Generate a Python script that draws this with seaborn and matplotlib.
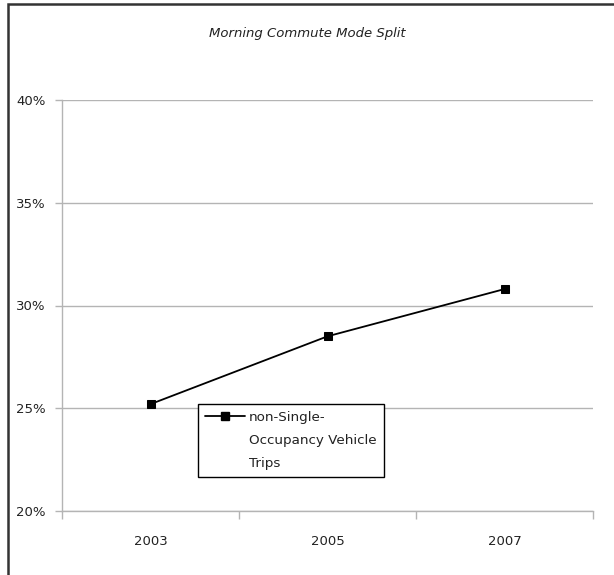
import matplotlib
matplotlib.use("Agg")
import matplotlib.pyplot as plt
import seaborn as sns
import pandas as pd
from matplotlib.lines import Line2D
from matplotlib.patches import Rectangle
from matplotlib.ticker import PercentFormatter

years = ["2003", "2005", "2007"]
values = [0.252, 0.285, 0.308]
legend_lines = ["non-Single-", "Occupancy Vehicle", "Trips"]
title = "Morning Commute Mode Split"
y_ticks = [0.20, 0.25, 0.30, 0.35, 0.40]

df = pd.DataFrame({"year": years, "share": values})

sns.set_style("white")
plt.rcParams["font.family"] = ["DejaVu Sans"]

fig = plt.figure(figsize=(6.14, 5.75), dpi=100)
ax = fig.add_axes([62/614, 1-511/575, (593-62)/614, (511-100)/575])

sns.lineplot(data=df, x="year", y="share", ax=ax, color="black", linewidth=1.3,
             marker="s", markersize=6, markeredgecolor="black", markerfacecolor="black",
             sort=False, legend=False)

ax.set_xlim(-0.5, 2.5)
ax.set_ylim(0.20, 0.40)
ax.set_yticks(y_ticks)
ax.yaxis.set_major_formatter(PercentFormatter(1.0, decimals=0))
ax.set_xlabel("")
ax.set_ylabel("")

grid_c = "#b4b4b4"
ax.yaxis.grid(True, color=grid_c, linewidth=1)
ax.xaxis.grid(False)
ax.set_axisbelow(True)
for s in ["top", "right"]:
    ax.spines[s].set_visible(False)
for s in ["left", "bottom"]:
    ax.spines[s].set_color(grid_c)
    ax.spines[s].set_linewidth(1)

ax.tick_params(axis="y", which="major", length=5, width=1, color=grid_c, pad=7,
               labelsize=9.5, labelcolor="#222222", left=True)
ax.tick_params(axis="x", which="major", length=0, pad=17, labelsize=9.5, labelcolor="#222222")
ax.set_xticks([-0.5, 0.5, 1.5, 2.5], minor=True)
ax.tick_params(axis="x", which="minor", length=6, width=1, color=grid_c, bottom=True)

fig.text(307/614, 1-33/575, title, ha="center", va="center", fontsize=9.5,
         style="italic", color="#222222")

# legend: first line carries the marker handle, continuation lines have blank handles
handles = [Line2D([], [], color="black", linewidth=1.3, marker="s", markersize=6)]
handles += [Line2D([], [], color="none", linewidth=0) for _ in legend_lines[1:]]
leg = ax.legend(handles, legend_lines, loc="upper left",
                bbox_to_anchor=((198-62)/531, (511-404)/411),
                fontsize=9.7, frameon=True, fancybox=False, framealpha=1,
                edgecolor="black", borderaxespad=0, borderpad=0.5,
                handlelength=3.0, handletextpad=0.3, labelspacing=0.75)
leg.get_frame().set_linewidth(1)
for t in leg.get_texts():
    t.set_color("#222222")

# outer chart border (left and top visible)
fig.patches.append(Rectangle((8/614, -0.1), 1.2, 1.1 - 4/575, transform=fig.transFigure,
                             fill=False, edgecolor="#333333", linewidth=1.8, figure=fig))

fig.savefig("out.png", dpi=100, facecolor="white")
